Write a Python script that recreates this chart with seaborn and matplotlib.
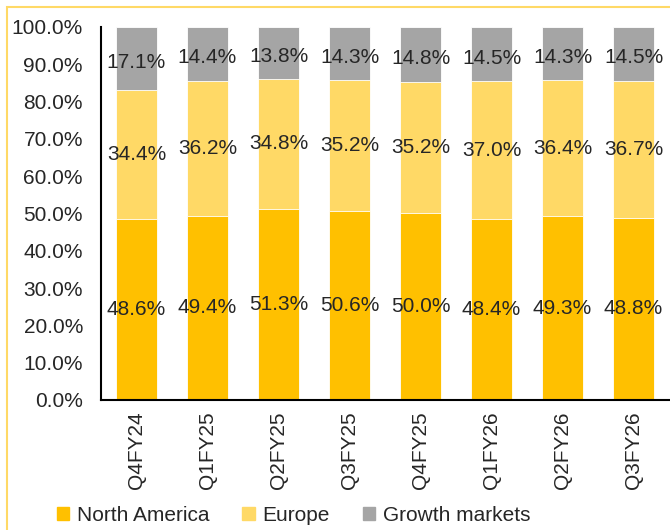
import matplotlib
matplotlib.use("Agg")
import matplotlib.pyplot as plt
import matplotlib.patches as mpatches
import seaborn as sns
import numpy as np
import pandas as pd

# dados do gráfico (participação por região, %)
trimestres = ['Q4FY24', 'Q1FY25', 'Q2FY25', 'Q3FY25', 'Q4FY25', 'Q1FY26', 'Q2FY26', 'Q3FY26']
north_america = [48.6, 49.4, 51.3, 50.6, 50.0, 48.4, 49.3, 48.8]
europe = [34.4, 36.2, 34.8, 35.2, 35.2, 37.0, 36.4, 36.7]
growth_markets = [17.1, 14.4, 13.8, 14.3, 14.8, 14.5, 14.3, 14.5]

cores = {'North America': '#FFC000', 'Europe': '#FFD966', 'Growth markets': '#A5A5A5'}

sns.set_style('white')
plt.rcParams['font.family'] = ['Liberation Sans', 'DejaVu Sans']

na = np.array(north_america) / 100
eu = np.array(europe) / 100
gm = np.array(growth_markets) / 100

df = pd.DataFrame({
    'trimestre': trimestres,
    'na': na,
    'na_eu': na + eu,
    'total': na + eu + gm,
})

fig = plt.figure(figsize=(6.7, 5.3), dpi=100)
ax = fig.add_axes([0.1507, 0.2453, 0.848, 0.7038])

largura = 0.58
# barras empilhadas: desenha o acumulado de trás para frente
sns.barplot(data=df, x='trimestre', y='total', color=cores['Growth markets'], width=largura,
            saturation=1, edgecolor='white', linewidth=0.6, ax=ax)
sns.barplot(data=df, x='trimestre', y='na_eu', color=cores['Europe'], width=largura,
            saturation=1, edgecolor='white', linewidth=0.6, ax=ax)
sns.barplot(data=df, x='trimestre', y='na', color=cores['North America'], width=largura,
            saturation=1, edgecolor='white', linewidth=0.6, ax=ax)

# rótulos dentro das barras
fs = 15
for i in range(len(trimestres)):
    ax.text(i, na[i] / 2, f'{north_america[i]:.1f}%', ha='center', va='center', fontsize=fs)
    ax.text(i, na[i] + eu[i] / 2, f'{europe[i]:.1f}%', ha='center', va='center', fontsize=fs)
    ax.text(i, na[i] + eu[i] + gm[i] / 2 - 0.01, f'{growth_markets[i]:.1f}%',
            ha='center', va='center', fontsize=fs)

ax.set_ylim(0, 1)
ax.set_xlim(-0.5, len(trimestres) - 0.5)
ax.set_yticks(np.arange(0, 1.01, 0.1))
ax.set_yticklabels([f'{v:.1f}%' for v in np.arange(0, 100.1, 10)], fontsize=fs)
ax.set_xticks(np.arange(len(trimestres) + 1) - 0.5, minor=False)
ax.set_xticklabels([])
ax.set_xticks(np.arange(len(trimestres)), minor=True)
ax.set_xticklabels(trimestres, minor=True, rotation=90, fontsize=fs)
ax.tick_params(axis='x', which='minor', length=0, pad=8)
ax.tick_params(axis='x', which='major', direction='out', length=5, width=1.5, color='black')
ax.tick_params(axis='y', direction='out', length=5, width=1.5, color='black', pad=8)
ax.set_xlabel('')
ax.set_ylabel('')

for lado in ['top', 'right']:
    ax.spines[lado].set_visible(False)
for lado in ['left', 'bottom']:
    ax.spines[lado].set_color('black')
    ax.spines[lado].set_linewidth(1.5)

# legenda embaixo
handles = [mpatches.Patch(color=cores[k], label=k) for k in cores]
fig.legend(handles=handles, loc='center', bbox_to_anchor=(0.438, 0.028), ncol=3, frameon=False,
           fontsize=fs, handlelength=0.6, handleheight=0.6, handletextpad=0.35,
           columnspacing=1.6, borderaxespad=0)

# moldura amarela
fig.patches.append(mpatches.Rectangle((7 / 670, -0.1), 1.2, 1.1 - 7 / 530,
                                      transform=fig.transFigure, fill=False,
                                      edgecolor='#FFD966', linewidth=1.5))

plt.savefig('out.png', dpi=100)
plt.close()
